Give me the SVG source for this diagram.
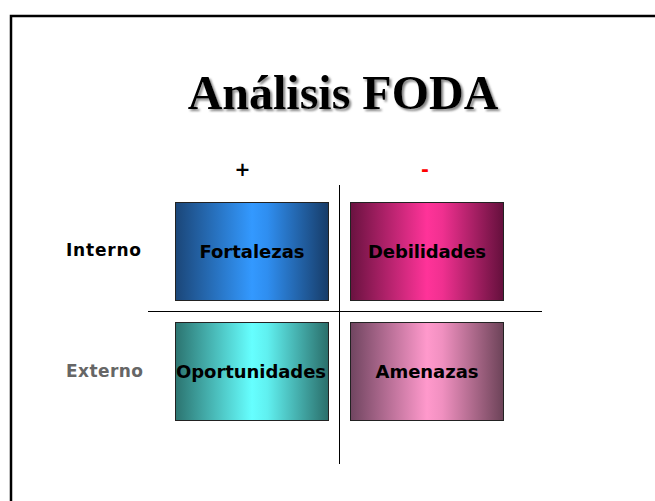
<svg xmlns="http://www.w3.org/2000/svg" width="655" height="501" viewBox="0 0 655 501">
<style>
.frame{fill:none;stroke:#000;stroke-width:2.5}
.axis{stroke:#000;stroke-width:1}
.box{stroke:#222;stroke-width:1}
.lbl{font-family:"DejaVu Sans",Verdana,sans-serif;font-weight:bold;font-size:18px;fill:#000;text-anchor:middle}
.side{font-family:"DejaVu Sans",Verdana,sans-serif;font-weight:bold;font-size:17px}
.title{font-family:"Liberation Serif","Times New Roman",serif;font-weight:bold;font-size:48px;text-anchor:middle;fill:#000}
</style>
<defs>
<linearGradient id="gBlue" x1="0" y1="0" x2="1" y2="0">
<stop offset="0" stop-color="#1b4678"/><stop offset="0.5" stop-color="#3399ff"/><stop offset="0.6" stop-color="#2f8ef0"/><stop offset="1" stop-color="#173c68"/>
</linearGradient>
<linearGradient id="gPink" x1="0" y1="0" x2="1" y2="0">
<stop offset="0" stop-color="#6a1240"/><stop offset="0.5" stop-color="#ff3399"/><stop offset="0.6" stop-color="#f03090"/><stop offset="1" stop-color="#64103c"/>
</linearGradient>
<linearGradient id="gCyan" x1="0" y1="0" x2="1" y2="0">
<stop offset="0" stop-color="#2c7470"/><stop offset="0.5" stop-color="#66ffff"/><stop offset="0.6" stop-color="#60f0f0"/><stop offset="1" stop-color="#2a6e6a"/>
</linearGradient>
<linearGradient id="gRose" x1="0" y1="0" x2="1" y2="0">
<stop offset="0" stop-color="#704560"/><stop offset="0.5" stop-color="#ff99cc"/><stop offset="0.6" stop-color="#f090c0"/><stop offset="1" stop-color="#6c4358"/>
</linearGradient>
<filter id="shadow" x="-5%" y="-20%" width="110%" height="150%"><feDropShadow dx="2" dy="2" stdDeviation="1" flood-color="#777" flood-opacity="0.9"/></filter>
</defs>
<rect width="655" height="501" fill="#fff"/>
<path class="frame" d="M11 501 V16 H655"/>
<g id="title">
<text class="title" x="343" y="109" filter="url(#shadow)">Análisis FODA</text>
</g>
<g id="headers">
<text x="242.5" y="176" font-family="DejaVu Sans,sans-serif" font-weight="bold" font-size="19" text-anchor="middle" fill="#000">+</text>
<text x="425" y="176" font-family="DejaVu Sans,sans-serif" font-weight="bold" font-size="19" text-anchor="middle" fill="#ff0000">-</text>
<text class="side" x="66" y="256" fill="#000" textLength="75" lengthAdjust="spacing">Interno</text>
<text class="side" x="66" y="377" fill="#666" textLength="77" lengthAdjust="spacing">Externo</text>
</g>
<g id="connectors">
<line class="axis" x1="339.5" y1="185" x2="339.5" y2="464"/>
<line class="axis" x1="148" y1="311.5" x2="542" y2="311.5"/>
</g>
<g id="fortalezas">
<rect class="box" x="175.5" y="202.5" width="153" height="98" fill="url(#gBlue)"/>
<text class="lbl" x="252" y="258" textLength="105" lengthAdjust="spacing">Fortalezas</text>
</g>
<g id="debilidades">
<rect class="box" x="350.5" y="202.5" width="153" height="98" fill="url(#gPink)"/>
<text class="lbl" x="427" y="258" textLength="118" lengthAdjust="spacing">Debilidades</text>
</g>
<g id="oportunidades">
<rect class="box" x="175.5" y="322.5" width="153" height="98" fill="url(#gCyan)"/>
<text class="lbl" x="251" y="378" textLength="150" lengthAdjust="spacing">Oportunidades</text>
</g>
<g id="amenazas">
<rect class="box" x="350.5" y="322.5" width="153" height="98" fill="url(#gRose)"/>
<text class="lbl" x="427" y="378" textLength="103" lengthAdjust="spacing">Amenazas</text>
</g>
</svg>
